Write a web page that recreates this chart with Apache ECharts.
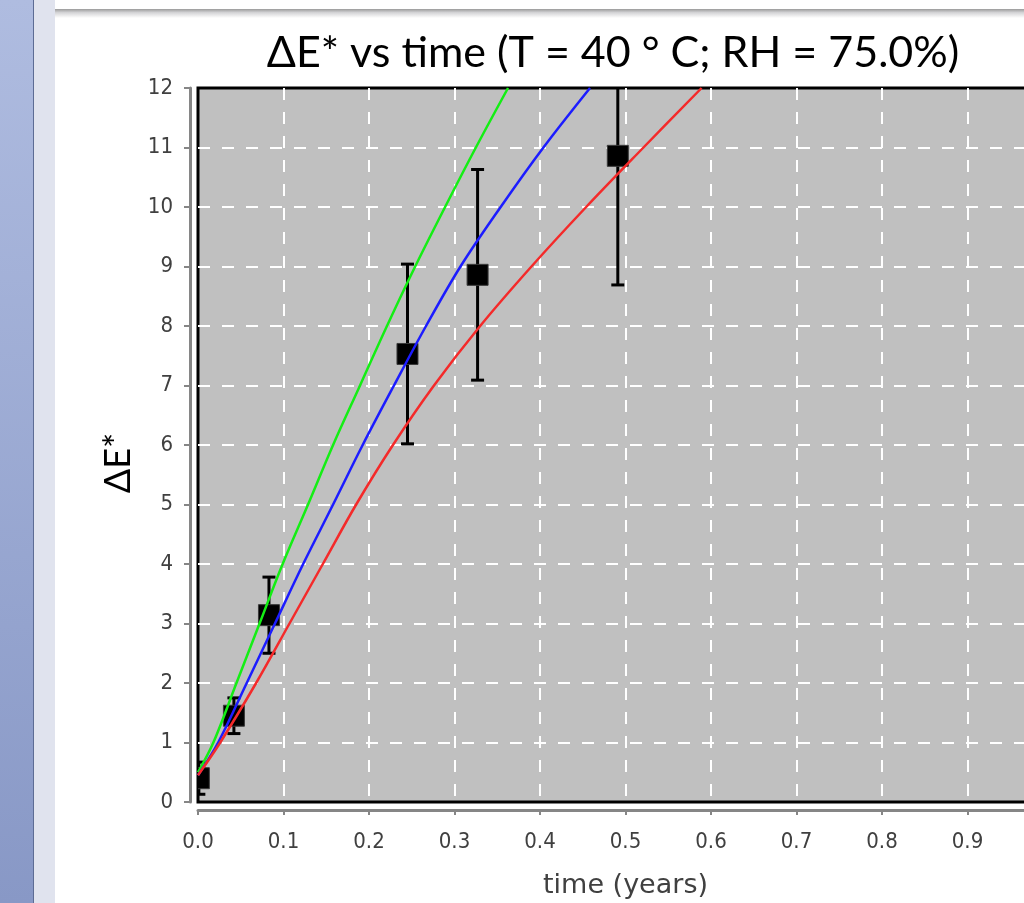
<!DOCTYPE html>
<html>
<head>
<meta charset="utf-8">
<style>
html, body { margin: 0; padding: 0; background: #fff; }
#chart { width: 1024px; height: 903px; }
</style>
<script src="https://cdn.jsdelivr.net/npm/echarts@6/dist/echarts.min.js"></script>
</head>
<body>
<div id="chart"></div>
<script>
// measured points: time (years), dE*, error half-width
const times = [0.001, 0.042, 0.083, 0.245, 0.327, 0.491];
const meanDE = [0.40, 1.45, 3.14, 7.53, 8.86, 10.86];
const errDE = [0.27, 0.30, 0.64, 1.51, 1.77, 2.17];

// fitted curves as [time, dE*]
const greenFit = [[0, 0.50], [0.018, 1.0], [0.045, 2.0], [0.072, 3.0], [0.099, 4.0], [0.1287, 5.0],
  [0.158, 6.0], [0.1895, 7.0], [0.221, 8.0], [0.254, 9.0], [0.289, 10.0], [0.325, 11.0], [0.3626, 12.0]];
const blueFit = [[0, 0.45], [0.0236, 1.0], [0.057, 2.0], [0.09, 3.0], [0.123, 4.0], [0.158, 5.0],
  [0.1926, 6.0], [0.2292, 7.0], [0.2667, 8.0], [0.307, 9.0], [0.354, 10.0], [0.404, 11.0], [0.4585, 12.0]];
const redFit = [[0, 0.45], [0.026, 1.0], [0.068, 2.0], [0.107, 3.0], [0.146, 4.0], [0.185, 5.0],
  [0.228, 6.0], [0.276, 7.0], [0.330, 8.0], [0.390, 9.0], [0.454, 10.0], [0.521, 11.0], [0.589, 12.0]];

const xTickLabels = ['0.0', '0.1', '0.2', '0.3', '0.4', '0.5', '0.6', '0.7', '0.8', '0.9', '1.0'];

const axisGray = '#868686';
const labelFont = 'DejaVu Sans Condensed';

const chart = echarts.init(document.getElementById('chart'));

// error bar + square marker, clipped to the plot like the original
function renderPoint(params, api) {
  const x = api.value(0), y = api.value(1), e = api.value(2);
  const top = api.coord([x, y + e]);
  const bot = api.coord([x, y - e]);
  const mid = api.coord([x, y]);
  const cap = 6.5, half = 10.5;
  const st = { stroke: '#000', lineWidth: 3 };
  return {
    type: 'group',
    children: [
      { type: 'line', shape: { x1: top[0], y1: top[1], x2: bot[0], y2: bot[1] }, style: st },
      { type: 'line', shape: { x1: top[0] - cap, y1: top[1], x2: top[0] + cap, y2: top[1] }, style: st },
      { type: 'line', shape: { x1: bot[0] - cap, y1: bot[1], x2: bot[0] + cap, y2: bot[1] }, style: st },
      { type: 'rect', shape: { x: mid[0] - half, y: mid[1] - half, width: half * 2, height: half * 2 },
        style: { fill: '#000', stroke: '#3a3a3a', lineWidth: 1 } }
    ]
  };
}

const gridDash = { show: true, showMinLine: false, showMaxLine: false,
  lineStyle: { color: '#fff', width: 2, type: [12, 12] } };

const option = {
  animation: false,
  backgroundColor: '#fff',
  title: {
    text: 'ΔE* vs time (T = 40 ° C; RH = 75.0%)',
    left: 608,
    top: 27,
    textAlign: 'center',
    textStyle: { fontFamily: 'Lato', fontSize: 43, fontWeight: 'normal', color: '#000' }
  },
  graphic: [
    { type: 'rect', left: 0, top: 0, shape: { width: 33, height: 903 }, silent: true,
      style: { fill: new echarts.graphic.LinearGradient(0, 0, 0, 1, [
        { offset: 0, color: '#afbce0' }, { offset: 1, color: '#8898c6' }]) } },
    { type: 'rect', left: 33, top: 0, shape: { width: 1, height: 903 }, silent: true, style: { fill: '#5d6c94' } },
    { type: 'rect', left: 34, top: 0, shape: { width: 21, height: 903 }, silent: true, style: { fill: '#e0e3ee' } },
    { type: 'rect', left: 55, top: 9, shape: { width: 969, height: 9 }, silent: true,
      style: { fill: new echarts.graphic.LinearGradient(0, 0, 0, 1, [
        { offset: 0, color: '#9a9a9a' }, { offset: 0.4, color: '#d4d4d6' }, { offset: 1, color: '#ffffff' }]) } }
  ],
  grid: {
    left: 198, top: 88, width: 855, height: 714,
    show: true, backgroundColor: '#c0c0c0', borderColor: '#000', borderWidth: 3,
    outerBoundsMode: 'none'
  },
  xAxis: {
    type: 'value', min: 0, max: 1, interval: 0.1, offset: 8,
    name: 'time (years)', nameLocation: 'middle', nameGap: 62,
    nameTextStyle: { fontFamily: 'DejaVu Sans', fontSize: 27, color: '#404040' },
    axisLine: { show: true, onZero: false, lineStyle: { color: axisGray, width: 3 } },
    axisTick: { show: true, length: 5, lineStyle: { color: axisGray, width: 2 } },
    axisLabel: { margin: 21, color: '#404040', fontFamily: labelFont, fontSize: 22,
      formatter: v => xTickLabels[Math.round(v * 10)] },
    splitLine: gridDash
  },
  yAxis: {
    type: 'value', min: 0, max: 12, interval: 1, offset: 8,
    name: 'ΔE*', nameLocation: 'middle', nameGap: 54,
    nameTextStyle: { fontFamily: 'Lato', fontSize: 36, color: '#000', padding: [0, 36, 0, 0] },
    axisLine: { show: true, onZero: false, lineStyle: { color: axisGray, width: 3 } },
    axisTick: { show: true, length: 6, lineStyle: { color: axisGray, width: 2 } },
    axisLabel: { margin: 17, color: '#404040', fontFamily: labelFont, fontSize: 22 },
    splitLine: gridDash
  },
  series: [
    {
      type: 'custom', clip: true, z: 2,
      renderItem: renderPoint,
      data: times.map((t, i) => [t, meanDE[i], errDE[i]])
    },
    { type: 'line', data: greenFit, smooth: 0.35, showSymbol: false, z: 3,
      lineStyle: { color: '#14ee14', width: 2.5 } },
    { type: 'line', data: blueFit, smooth: 0.35, showSymbol: false, z: 3,
      lineStyle: { color: '#1c1cff', width: 2.5 } },
    { type: 'line', data: redFit, smooth: 0.35, showSymbol: false, z: 3,
      lineStyle: { color: '#f42a2a', width: 2.5 } }
  ]
};

chart.setOption(option);
</script>
</body>
</html>
